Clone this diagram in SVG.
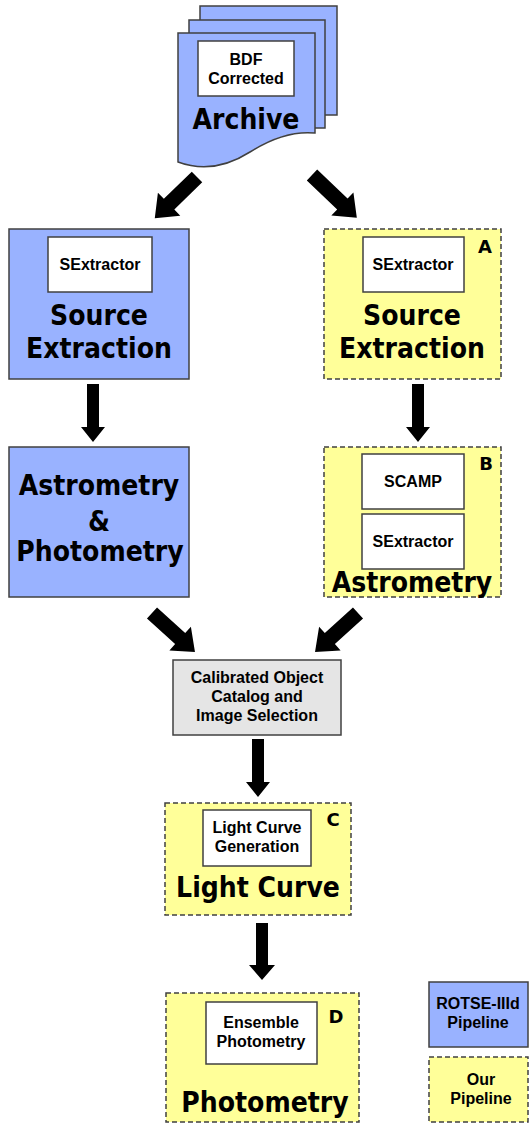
<svg xmlns="http://www.w3.org/2000/svg" width="529" height="1124" viewBox="0 0 529 1124">
<style>
.blue{fill:#99B2FF;stroke:#404040;stroke-width:1.5}
.yel{fill:#FFFF99;stroke:#404040;stroke-width:1.5;stroke-dasharray:5,3}
.gray{fill:#E5E5E5;stroke:#404040;stroke-width:1.5}
.wb{fill:#FFFFFF;stroke:#404040;stroke-width:1.5}
.sm{font-family:"Liberation Sans",Arial,sans-serif;font-weight:bold;font-size:16px;fill:#000;text-anchor:middle}
.big{font-family:"DejaVu Sans Condensed","DejaVu Sans",sans-serif;font-stretch:condensed;font-weight:bold;font-size:28px;fill:#000;text-anchor:middle}
.lab{font-family:"DejaVu Sans",sans-serif;font-weight:bold;font-size:18px;fill:#000;text-anchor:middle}
.arr{fill:#000}
</style>
<g id="archive">
<rect class="blue" x="200" y="6" width="137" height="109"/>
<rect class="blue" x="189" y="20" width="136" height="108"/>
<path class="blue" d="M178,33 H315 V133 C 295,131 275,136 250,152 C 228,166 205,172 178,162 Z"/>
<rect class="wb" x="198" y="41" width="96" height="55"/>
<text class="sm" x="246" y="65">BDF</text>
<text class="sm" x="246" y="84">Corrected</text>
<text class="big" x="246" y="129">Archive</text>
</g>
<g id="rotse-source">
<rect class="blue" x="9" y="229" width="180" height="150"/>
<rect class="wb" x="48" y="237" width="104" height="55"/>
<text class="sm" x="100" y="270">SExtractor</text>
<text class="big" x="99" y="325">Source</text>
<text class="big" x="99" y="358">Extraction</text>
</g>
<g id="our-source">
<rect class="yel" x="324" y="229" width="177" height="150"/>
<rect class="wb" x="363" y="237" width="101" height="55"/>
<text class="sm" x="413" y="270">SExtractor</text>
<text class="lab" x="485" y="253">A</text>
<text class="big" x="412" y="325">Source</text>
<text class="big" x="412" y="358">Extraction</text>
</g>
<g id="rotse-astrometry">
<rect class="blue" x="9" y="447" width="180" height="150"/>
<text class="big" x="99" y="495">Astrometry</text>
<text class="big" x="99" y="531">&amp;</text>
<text class="big" x="100" y="561">Photometry</text>
</g>
<g id="our-astrometry">
<rect class="yel" x="324" y="447" width="177" height="150"/>
<rect class="wb" x="362" y="454" width="102" height="55"/>
<text class="sm" x="413" y="487">SCAMP</text>
<rect class="wb" x="362" y="514" width="102" height="55"/>
<text class="sm" x="413" y="547">SExtractor</text>
<text class="lab" x="486" y="470">B</text>
<text class="big" x="412" y="592">Astrometry</text>
</g>
<g id="catalog">
<rect class="gray" x="173" y="660" width="168" height="75"/>
<text class="sm" x="257" y="683">Calibrated Object</text>
<text class="sm" x="257" y="702">Catalog and</text>
<text class="sm" x="257" y="721">Image Selection</text>
</g>
<g id="light-curve">
<rect class="yel" x="165" y="803" width="186" height="112"/>
<rect class="wb" x="203" y="810" width="108" height="56"/>
<text class="sm" x="257" y="833">Light Curve</text>
<text class="sm" x="257" y="852">Generation</text>
<text class="lab" x="333" y="826">C</text>
<text class="big" x="258" y="897">Light Curve</text>
</g>
<g id="photometry">
<rect class="yel" x="166" y="993" width="193" height="129"/>
<rect class="wb" x="206" y="1002" width="111" height="62"/>
<text class="sm" x="261" y="1028">Ensemble</text>
<text class="sm" x="261" y="1047">Photometry</text>
<text class="lab" x="336" y="1023">D</text>
<text class="big" x="265" y="1112">Photometry</text>
</g>
<g id="legend-rotse">
<rect class="blue" x="429" y="982" width="99" height="65"/>
<text class="sm" x="478" y="1009">ROTSE-IIId</text>
<text class="sm" x="478" y="1028">Pipeline</text>
</g>
<g id="legend-ours">
<rect class="yel" x="429" y="1057" width="99" height="65"/>
<text class="sm" x="481" y="1085">Our</text>
<text class="sm" x="481" y="1104">Pipeline</text>
</g>
<g id="connectors">
<path class="arr" transform="translate(197,177) rotate(135.7)" d="M0,-7.5 H39 V-16 L59,0 L39,16 V7.5 H0 Z"/>
<path class="arr" transform="translate(312,175) rotate(43.7)" d="M0,-7.5 H42 V-16 L62,0 L42,16 V7.5 H0 Z"/>
<path class="arr" d="M87,384 H99 V427 H105 L93,442 L81,427 H87 Z"/>
<path class="arr" d="M412,384 H424 V427 H430 L418,442 L406,427 H412 Z"/>
<path class="arr" transform="translate(152,613) rotate(42.2)" d="M0,-7.5 H38 V-16 L58,0 L38,16 V7.5 H0 Z"/>
<path class="arr" transform="translate(358,613) rotate(137.8)" d="M0,-7.5 H38 V-16 L58,0 L38,16 V7.5 H0 Z"/>
<path class="arr" d="M252,739 H264 V782 H270 L258,797 L246,782 H252 Z"/>
<path class="arr" d="M256,923 H268 V965 H275 L262,980 L249,965 H256 Z"/>
</g>
</svg>
